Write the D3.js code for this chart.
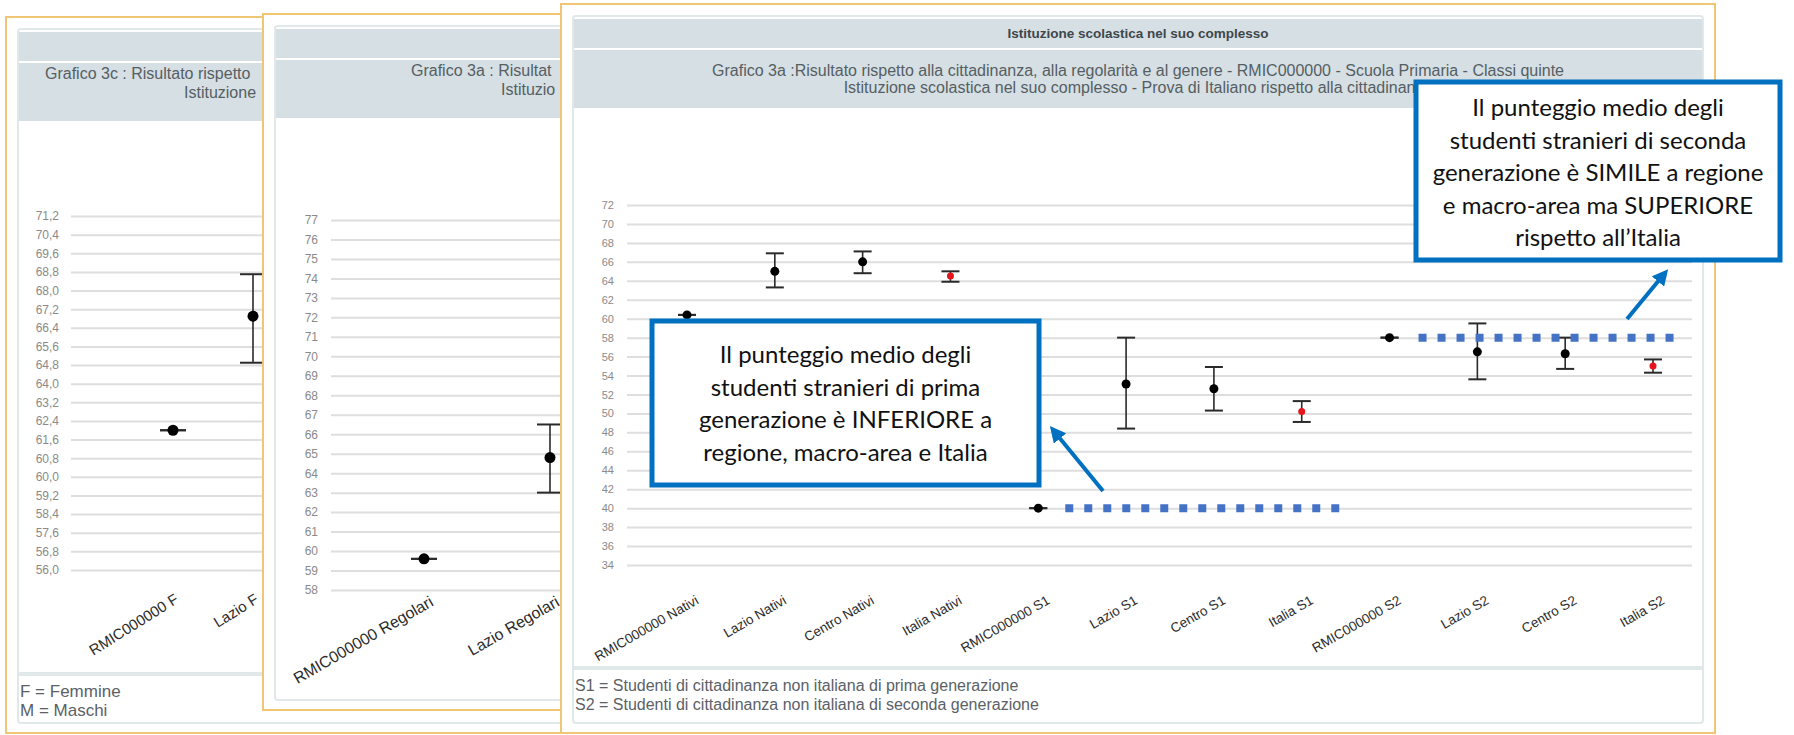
<!DOCTYPE html>
<html>
<head>
<meta charset="utf-8">
<script src="https://cdn.jsdelivr.net/npm/d3@7"></script>
<style>
body { margin: 0; background: #fff; }
svg text { font-family: "Liberation Sans", Arial, sans-serif; }
.callout text { font-family: Lato, "Open Sans", sans-serif; }
</style>
</head>
<body>
<svg id="chart" width="1794" height="735"></svg>
<script>
// grafico 3c (genere) - only the visible part
var cats3c = ["RMIC000000 F", "Lazio F"];
var media3c = [62.0, 66.9];
var min3c = [62.0, 64.9];
var max3c = [62.0, 68.7];
var ticks3c = [71.2, 70.4, 69.6, 68.8, 68.0, 67.2, 66.4, 65.6, 64.8, 64.0, 63.2, 62.4, 61.6, 60.8, 60.0, 59.2, 58.4, 57.6, 56.8, 56.0];

// grafico 3a (regolarita) - only the visible part
var catsReg = ["RMIC000000 Regolari", "Lazio Regolari"];
var mediaReg = [59.6, 64.8];
var minReg = [59.6, 63.0];
var maxReg = [59.6, 66.5];
var ticksReg = [77, 76, 75, 74, 73, 72, 71, 70, 69, 68, 67, 66, 65, 64, 63, 62, 61, 60, 59, 58];

// grafico 3a (cittadinanza)
var cats3a = ["RMIC000000 Nativi", "Lazio Nativi", "Centro Nativi", "Italia Nativi",
              "RMIC000000 S1", "Lazio S1", "Centro S1", "Italia S1",
              "RMIC000000 S2", "Lazio S2", "Centro S2", "Italia S2"];
var media3a = [60.4, 65.0, 66.0, 64.5, 40.0, 53.1, 52.6, 50.2, 58.0, 56.5, 56.3, 55.0];
var min3a   = [60.4, 63.3, 64.8, 63.9, 40.0, 48.4, 50.3, 49.1, 58.0, 53.6, 54.7, 54.3];
var max3a   = [60.4, 66.9, 67.1, 65.0, 40.0, 58.0, 54.9, 51.3, 58.0, 59.5, 58.0, 55.7];
var ticks3a = [72, 70, 68, 66, 64, 62, 60, 58, 56, 54, 52, 50, 48, 46, 44, 42, 40, 38, 36, 34];

var livelloS1 = 40.0;
var livelloS2 = 58.0;

var note3c = ["F = Femmine", "M = Maschi"];
var note3a = ["S1 = Studenti di cittadinanza non italiana di prima generazione",
              "S2 = Studenti di cittadinanza non italiana di seconda generazione"];

var callout1 = ["Il punteggio medio degli", "studenti stranieri di prima", "generazione è INFERIORE a", "regione, macro-area e Italia"];
var callout2 = ["Il punteggio medio degli", "studenti stranieri di seconda", "generazione è SIMILE a regione", "e macro-area ma SUPERIORE", "rispetto all’Italia"];

var svg = d3.select("#chart");
var fmtComma = d3.formatLocale({decimal: ",", thousands: ".", grouping: [3], currency: ["", "€"]}).format(".1f");

function drawPanel(p) {
    var g = svg.append("g");
    g.append("rect")
        .attr("x", p.x).attr("y", p.y).attr("width", p.w).attr("height", p.h)
        .attr("fill", "#fff").attr("stroke", "#f0c575").attr("stroke-width", 2);
    g.append("rect")
        .attr("x", p.x + 12).attr("y", p.y + 12).attr("width", p.w - 24).attr("height", p.h - 22)
        .attr("fill", "#fff").attr("stroke", "#e1e8ea").attr("stroke-width", 2).attr("rx", 3);
    // header bands
    g.append("rect")
        .attr("x", p.x + 13).attr("y", p.y + 15).attr("width", p.w - 26).attr("height", 29)
        .attr("fill", "#d6dfe3");
    g.append("rect")
        .attr("x", p.x + 13).attr("y", p.y + 46).attr("width", p.w - 26).attr("height", 58)
        .attr("fill", "#d6dfe3");
    if (p.title) {
        g.append("text").attr("x", p.x + p.w / 2).attr("y", p.y + 34)
            .attr("text-anchor", "middle").attr("font-size", 13.5).attr("font-weight", "bold")
            .attr("fill", "#3e474c").text(p.title);
    }
    // subtitle: centred for the front panel, only the visible start for the ones behind
    p.sub.forEach(function(s, i) {
        var t = g.append("text").attr("y", p.y + p.subY[i])
            .attr("font-size", 16).attr("fill", "#555e63").text(s);
        if (p.subX) t.attr("x", p.subX[i]);
        else t.attr("x", p.x + p.w / 2).attr("text-anchor", "middle");
    });
    if (p.note) {
        g.append("line")
            .attr("x1", p.x + 13).attr("x2", p.x + p.w - 13)
            .attr("y1", p.footY).attr("y2", p.footY)
            .attr("stroke", "#e1e8ea").attr("stroke-width", 4);
        p.note.forEach(function(s, i) {
            g.append("text").attr("x", p.x + 14).attr("y", p.footY + 23 + i * 19)
                .attr("font-size", p.noteSize).attr("fill", "#5b6166").text(s);
        });
    }
    return g;
}

function drawChart(g, c) {
    var y = d3.scaleLinear().domain([c.ticks[c.ticks.length - 1], c.ticks[0]]).range([c.bottom, c.top]);
    var x = d3.scalePoint().domain(c.cats).range(c.xr);

    var ax = g.append("g")
        .attr("transform", "translate(" + c.gridX0 + ",0)")
        .call(d3.axisLeft(y).tickValues(c.ticks).tickFormat(c.fmt)
            .tickSize(-(c.gridX1 - c.gridX0)).tickPadding(c.pad));
    ax.select(".domain").remove();
    ax.selectAll(".tick line").attr("stroke", "#dedede").attr("stroke-width", 2);
    ax.selectAll(".tick text").attr("fill", "#8a8a8a").attr("font-size", c.tickSize)
        .style("font-family", "'Liberation Sans', Arial, sans-serif");

    var bx = g.append("g")
        .attr("transform", "translate(0," + c.bottom + ")")
        .call(d3.axisBottom(x).tickSize(0));
    bx.select(".domain").remove();
    bx.selectAll(".tick text")
        .attr("x", 0).attr("y", 0).attr("dy", 0)
        .attr("text-anchor", "end")
        .attr("transform", "translate(" + c.lx + "," + c.ly + ") rotate(" + c.angle + ")")
        .attr("font-size", c.labSize).attr("fill", "#2b2b2b")
        .style("font-family", "'Liberation Sans', Arial, sans-serif");

    var idx = d3.range(c.cats.length);
    var eb = g.append("g").selectAll("g").data(idx).enter().append("g");
    eb.append("line")
        .attr("x1", function(i) { return x(c.cats[i]); })
        .attr("x2", function(i) { return x(c.cats[i]); })
        .attr("y1", function(i) { return y(c.max[i]); })
        .attr("y2", function(i) { return y(c.min[i]); })
        .attr("stroke", "#2a2a2a").attr("stroke-width", 1.6);
    [c.max, c.min].forEach(function(arr) {
        eb.append("line")
            .attr("x1", function(i) { return x(c.cats[i]) - c.cap; })
            .attr("x2", function(i) { return x(c.cats[i]) + c.cap; })
            .attr("y1", function(i) { return y(arr[i]); })
            .attr("y2", function(i) { return y(arr[i]); })
            .attr("stroke", "#2a2a2a").attr("stroke-width", 2);
    });
    eb.append("circle")
        .attr("cx", function(i) { return x(c.cats[i]); })
        .attr("cy", function(i) { return y(c.media[i]); })
        .attr("r", function(i) { return c.cats[i].indexOf("Italia") === 0 ? c.r - 1 : c.r; })
        .attr("fill", function(i) { return c.cats[i].indexOf("Italia") === 0 ? "#e8141b" : "#000"; });
    return {x: x, y: y};
}

// ---- panel 1 : grafico 3c (behind) ----
var g1 = drawPanel({
    x: 6, y: 17, w: 948, h: 716,
    sub: ["Grafico 3c :  Risultato rispetto", "Istituzione"],
    subX: [45, 184], subY: [62, 81],
    note: note3c, footY: 674, noteSize: 17
});
drawChart(g1, {
    cats: cats3c, media: media3c, min: min3c, max: max3c, ticks: ticks3c, fmt: fmtComma,
    top: 216, bottom: 570, xr: [173, 253], gridX0: 71, gridX1: 940, pad: 12, tickSize: 12,
    lx: 6, ly: 32, angle: -32, labSize: 15, cap: 13, r: 5.5
});

// ---- panel 2 : grafico 3a regolarita (middle) ----
var g2 = drawPanel({
    x: 263, y: 14, w: 1154, h: 696,
    sub: ["Grafico 3a :  Risultat", "Istituzio"],
    subX: [411, 501], subY: [62, 81]
});
drawChart(g2, {
    cats: catsReg, media: mediaReg, min: minReg, max: maxReg, ticks: ticksReg, fmt: d3.format("d"),
    top: 220, bottom: 590, xr: [424, 550], gridX0: 331, gridX1: 1390, pad: 13, tickSize: 12,
    lx: 10, ly: 15, angle: -30, labSize: 16, cap: 13, r: 5.5
});

// ---- panel 3 : grafico 3a cittadinanza (front) ----
var g3 = drawPanel({
    x: 561, y: 4, w: 1154, h: 729,
    title: "Istituzione scolastica nel suo complesso",
    sub: ["Grafico 3a :Risultato rispetto alla cittadinanza, alla regolarità e al genere - RMIC000000 - Scuola Primaria - Classi quinte",
          "Istituzione scolastica nel suo complesso - Prova di Italiano rispetto alla cittadinanza"],
    subY: [72, 89],
    note: note3a, footY: 668, noteSize: 16
});
var s3 = drawChart(g3, {
    cats: cats3a, media: media3a, min: min3a, max: max3a, ticks: ticks3a, fmt: d3.format("d"),
    top: 205, bottom: 565, xr: [687, 1653], gridX0: 627, gridX1: 1692, pad: 13, tickSize: 11,
    lx: 12, ly: 38, angle: -30, labSize: 13.5, cap: 9, r: 4.5
});

// dotted reference lines
var dots = svg.append("g");
dots.append("line")
    .attr("x1", s3.x("RMIC000000 S1") + 27).attr("x2", s3.x("Italia S1") + 40)
    .attr("y1", s3.y(livelloS1)).attr("y2", s3.y(livelloS1));
dots.append("line")
    .attr("x1", s3.x("RMIC000000 S2") + 29).attr("x2", s3.x("Italia S2") + 26)
    .attr("y1", s3.y(livelloS2)).attr("y2", s3.y(livelloS2));
dots.selectAll("line").attr("stroke", "#4472c4").attr("stroke-width", 8).attr("stroke-dasharray", "8 11");

// arrows
svg.append("defs").append("marker")
    .attr("id", "head").attr("viewBox", "0 0 10 10").attr("refX", 2).attr("refY", 5)
    .attr("markerWidth", 4).attr("markerHeight", 4).attr("orient", "auto")
    .append("path").attr("d", "M0,0 L10,5 L0,10 z").attr("fill", "#0070c0");
var arrows = [[1103, 491, 1058, 436], [1627, 319, 1660, 279]];
svg.append("g").selectAll("line").data(arrows).enter().append("line")
    .attr("x1", function(d) { return d[0]; }).attr("y1", function(d) { return d[1]; })
    .attr("x2", function(d) { return d[2]; }).attr("y2", function(d) { return d[3]; })
    .attr("stroke", "#0070c0").attr("stroke-width", 4).attr("marker-end", "url(#head)");

// callouts
function callout(x0, y0, w, h, lines, base) {
    var g = svg.append("g").attr("class", "callout");
    g.append("rect").attr("x", x0).attr("y", y0).attr("width", w).attr("height", h)
        .attr("fill", "#fff").attr("stroke", "#0070c0").attr("stroke-width", 5);
    lines.forEach(function(s, i) {
        g.append("text").attr("x", x0 + w / 2).attr("y", base + i * 32.5)
            .attr("text-anchor", "middle").attr("font-size", 24).attr("fill", "#111").text(s);
    });
}
callout(652, 321, 387, 164, callout1, 363);
callout(1416, 82, 364, 178, callout2, 116);
</script>
</body>
</html>
